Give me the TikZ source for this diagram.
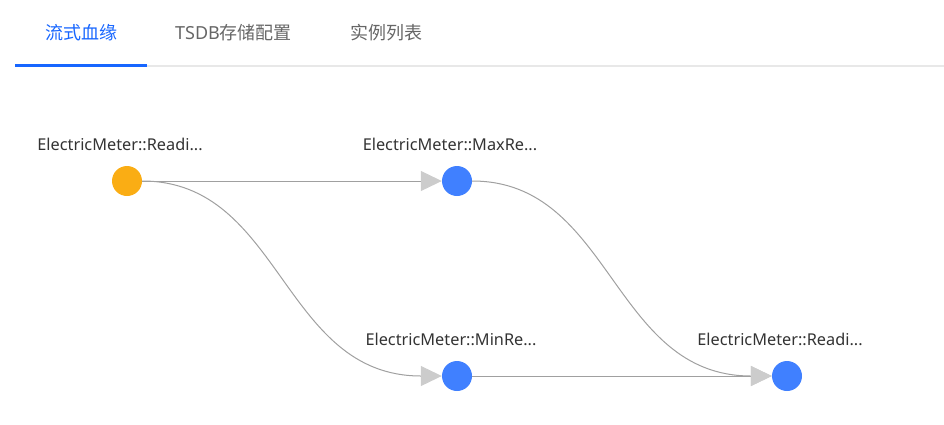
\documentclass[tikz,border=0pt]{standalone}
\usepackage{fontspec}
\setmainfont{Noto Sans}
\newfontfamily\cjk{Noto Sans CJK SC}
\newfontfamily\latin{Noto Sans}
\usepackage{tikz}
\usetikzlibrary{arrows.meta}

\definecolor{tabblue}{HTML}{1766FF}
\definecolor{tabgray}{HTML}{666666}
\definecolor{linegray}{HTML}{E8E8E8}
\definecolor{nodeblue}{HTML}{4080FF}
\definecolor{nodegold}{HTML}{FAAD14}
\definecolor{edgegray}{HTML}{A0A0A0}
\definecolor{tipgray}{HTML}{CCCCCC}

\begin{document}
\begin{tikzpicture}[x=1pt,y=-1pt,
    tab/.style={font=\cjk\fontsize{18}{20}\selectfont, text=tabgray},
    dot/.style={circle, minimum size=30pt, inner sep=0pt, fill=nodeblue},
    lbl/.style={font=\fontsize{16.3}{18}\selectfont, text=black!80},
    edge/.style={draw=edgegray, line width=1pt, -{Triangle[length=21pt,width=20pt,color=tipgray]}}]
    \useasboundingbox (0,0) rectangle (944,424);

    % 1. Tabs
    \node[tab, text=tabblue] (tlineage) at (81,33) {流式血缘};
    \node[tab] (ttsdb) at (233.5,33) {{\latin TSDB}存储配置};
    \node[tab] (tlist) at (386,33) {实例列表};
    \fill[linegray] (147,64.5) rectangle (944,66.5);
    \fill[tabblue] (15,64) rectangle (147,67);

    % 2. Nodes
    \node[dot, fill=nodegold] (reading) at (127,181) {};
    \node[dot] (maxre) at (457,181) {};
    \node[dot] (minre) at (457,376) {};
    \node[dot] (readout) at (787,376) {};

    % 3. Labels (a bit left of the dots)
    \node[lbl] (lreading) at ([xshift=-7pt,yshift=21pt]reading.north) {ElectricMeter::Readi...};
    \node[lbl] (lmaxre) at ([xshift=-7pt,yshift=21pt]maxre.north) {ElectricMeter::MaxRe...};
    \node[lbl] (lminre) at ([xshift=-6pt,yshift=21pt]minre.north) {ElectricMeter::MinRe...};
    \node[lbl] (lreadout) at ([xshift=-7pt,yshift=21pt]readout.north) {ElectricMeter::Readi...};

    % 4. Edges
    \draw[edge] (reading.east) -- (maxre.west);
    \draw[edge] (reading.east) .. controls +(140,0) and +(-160,0) .. (minre.west);
    \draw[edge] (maxre.east) .. controls +(140,0) and +(-160,0) .. (readout.west);
    \draw[edge] (minre.east) -- (readout.west);
\end{tikzpicture}
\end{document}
